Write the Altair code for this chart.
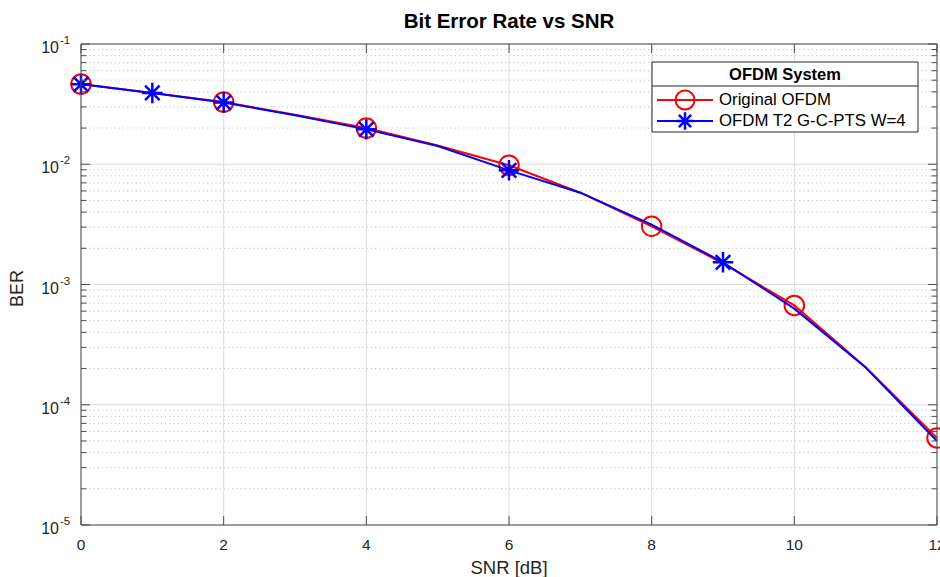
import altair as alt
import pandas as pd

# ---- data ----
snr = [0, 1, 2, 3, 4, 5, 6, 7, 8, 9, 10, 11, 12]
ber_original = [0.0464, 0.0392, 0.0329, 0.0258, 0.0200, 0.0143, 0.0098, 0.0058, 0.00305,
                0.00150, 0.00067, 0.000205, 0.0000530]
ber_gcpts = [0.0462, 0.0392, 0.0326, 0.0256, 0.0195, 0.0142, 0.0089, 0.0058, 0.00315,
             0.00153, 0.00063, 0.000204, 0.0000500]
orig_marker_snr = [0, 2, 4, 6, 8, 10, 12]
gcpts_marker_snr = [0, 1, 2, 4, 6, 9]
series_names = ["Original OFDM", "OFDM T2 G-C-PTS W=4"]
series_colors = ["#ff0000", "#0000ff"]
legend_title = "OFDM System"
chart_title = "Bit Error Rate vs SNR"
x_title = "SNR [dB]"
y_title = "BER"
x_ticks = [0, 2, 4, 6, 8, 10, 12]
y_decades = [1e-1, 1e-2, 1e-3, 1e-4, 1e-5]
y_exponents = ["-1", "-2", "-3", "-4", "-5"]
minor_mult = [2, 3, 4, 5, 6, 7, 8, 9]
decade_bases = [1e-5, 1e-4, 1e-3, 1e-2]
y_minor = [m * d for d in decade_bases for m in minor_mult]

W, H = 856, 481
FONT = "Liberation Sans"
AX = "#4d4d4d"

xs = alt.Scale(domain=[0, 12], nice=False, zero=False)
ys = alt.Scale(type="log", domain=[1e-5, 1e-1], nice=False)

one = pd.DataFrame({"a": [0]})
df_orig = pd.DataFrame({"snr": snr, "ber": ber_original})
df_gc = pd.DataFrame({"snr": snr, "ber": ber_gcpts})
df_orig_m = df_orig[df_orig.snr.isin(orig_marker_snr)]
df_gc_m = df_gc[df_gc.snr.isin(gcpts_marker_snr)]
df_minor = pd.DataFrame({"v": y_minor})
df_dec = pd.DataFrame({"v": y_decades, "e": y_exponents, "b": ["10"] * len(y_decades)})
df_xt = pd.DataFrame({"v": x_ticks, "t": [str(t) for t in x_ticks]})

X = lambda f="snr": alt.X(f"{f}:Q", scale=xs, axis=None)
Y = lambda f="ber": alt.Y(f"{f}:Q", scale=ys, axis=None)

minor_grid = alt.Chart(df_minor).mark_rule(color="#c4c4c4", strokeWidth=1, strokeDash=[1.2, 3]).encode(
    y=Y("v"), x=alt.value(0), x2=alt.value(W))
major_ygrid = alt.Chart(df_dec).mark_rule(color="#dcdcdc", strokeWidth=1).encode(
    y=Y("v"), x=alt.value(0), x2=alt.value(W))
major_xgrid = alt.Chart(df_xt).mark_rule(color="#dcdcdc", strokeWidth=1).encode(
    x=X("v"), y=alt.value(0), y2=alt.value(H))

# ticks (inward, on all four sides)
yt_l = alt.Chart(df_dec).mark_rule(color=AX).encode(y=Y("v"), x=alt.value(0), x2=alt.value(9))
yt_r = alt.Chart(df_dec).mark_rule(color=AX).encode(y=Y("v"), x=alt.value(W - 9), x2=alt.value(W))
ym_l = alt.Chart(df_minor).mark_rule(color=AX).encode(y=Y("v"), x=alt.value(0), x2=alt.value(5.5))
ym_r = alt.Chart(df_minor).mark_rule(color=AX).encode(y=Y("v"), x=alt.value(W - 5.5), x2=alt.value(W))
xt_b = alt.Chart(df_xt).mark_rule(color=AX).encode(x=X("v"), y=alt.value(H - 9), y2=alt.value(H))
xt_t = alt.Chart(df_xt).mark_rule(color=AX).encode(x=X("v"), y=alt.value(0), y2=alt.value(9))

frame = alt.Chart(one).mark_rect(fill=None, stroke=AX, strokeWidth=1).encode(
    x=alt.value(0), x2=alt.value(W), y=alt.value(0), y2=alt.value(H))

# data
line_o = alt.Chart(df_orig).mark_line(color=series_colors[0], strokeWidth=2).encode(x=X(), y=Y())
pts_o = alt.Chart(df_orig_m).mark_point(shape="circle", filled=False, color=series_colors[0],
                                        size=380, strokeWidth=2, opacity=1).encode(x=X(), y=Y())
line_g = alt.Chart(df_gc).mark_line(color=series_colors[1], strokeWidth=2).encode(x=X(), y=Y())
STAR = "M-1,0L1,0M0,-1L0,1M-0.7071,-0.7071L0.7071,0.7071M-0.7071,0.7071L0.7071,-0.7071"
pts_g = alt.Chart(df_gc_m).mark_point(shape=STAR, filled=False, color=series_colors[1],
                                      size=420, strokeWidth=2.5, opacity=1).encode(x=X(), y=Y())

# axis labels
ylab_b = alt.Chart(df_dec).mark_text(align="right", baseline="middle", font=FONT, fontSize=16,
                                     color="#262626", dy=4).encode(y=Y("v"), x=alt.value(-22), text="b:N")
ylab_e = alt.Chart(df_dec).mark_text(align="left", baseline="middle", font=FONT, fontSize=11.5,
                                     color="#262626", dy=-3).encode(y=Y("v"), x=alt.value(-21), text="e:N")
xlab = alt.Chart(df_xt).mark_text(align="center", baseline="middle", font=FONT, fontSize=15.5,
                                  color="#262626").encode(x=X("v"), y=alt.value(H + 20), text="t:N")
xtitle = alt.Chart(one).mark_text(text=x_title, align="center", baseline="middle", font=FONT,
                                  fontSize=18.5, color="#262626").encode(x=alt.value(W / 2), y=alt.value(H + 43))
ytitle = alt.Chart(one).mark_text(text=y_title, align="center", baseline="middle", font=FONT, angle=270,
                                  fontSize=18, color="#262626").encode(x=alt.value(-63), y=alt.value(H / 2 + 4))
title = alt.Chart(one).mark_text(text=chart_title, align="center", baseline="middle", font=FONT,
                                 fontSize=20.5, fontWeight="bold", color="#000000").encode(
    x=alt.value(W / 2), y=alt.value(-22))

# legend
LX0, LX1, LY0, LY1 = 571, 837, 18, 88
leg_box = alt.Chart(one).mark_rect(fill="white", stroke="#262626", strokeWidth=1).encode(
    x=alt.value(LX0), x2=alt.value(LX1), y=alt.value(LY0), y2=alt.value(LY1))
leg_sep = alt.Chart(one).mark_rule(color="#262626", strokeWidth=1).encode(
    x=alt.value(LX0), x2=alt.value(LX1), y=alt.value(42))
leg_title = alt.Chart(one).mark_text(text=legend_title, align="center", baseline="middle", font=FONT,
                                     fontSize=16.5, fontWeight="bold", color="#000000").encode(
    x=alt.value((LX0 + LX1) / 2), y=alt.value(31))
legend_layers = [leg_box, leg_sep, leg_title]
entry_y = [56, 77]
for i in range(2):
    legend_layers.append(alt.Chart(one).mark_rule(color=series_colors[i], strokeWidth=2).encode(
        x=alt.value(576), x2=alt.value(632), y=alt.value(entry_y[i])))
    if i == 0:
        legend_layers.append(alt.Chart(one).mark_point(shape="circle", filled=False, color=series_colors[i],
                                                       size=360, strokeWidth=2, opacity=1).encode(
            x=alt.value(604), y=alt.value(entry_y[i])))
    else:
        legend_layers.append(alt.Chart(one).mark_point(shape=STAR, filled=False, color=series_colors[i],
                                                       size=300, strokeWidth=2.5, opacity=1).encode(
            x=alt.value(604), y=alt.value(entry_y[i])))
    legend_layers.append(alt.Chart(one).mark_text(text=series_names[i], align="left", baseline="middle",
                                                  font=FONT, fontSize=16.8, color="#000000").encode(
        x=alt.value(638), y=alt.value(entry_y[i])))

chart = alt.layer(
    minor_grid, major_ygrid, major_xgrid,
    line_o, pts_o, line_g, pts_g,
    frame, yt_l, yt_r, ym_l, ym_r, xt_b, xt_t,
    ylab_b, ylab_e, xlab, xtitle, ytitle, title,
    *legend_layers,
).properties(
    width=W, height=H,
    padding={"left": 81, "top": 44, "right": 3, "bottom": 52},
    autosize=alt.AutoSizeParams(type="none"),
    background="white",
).configure_view(stroke=None)

chart.save("out.html", embed_options={"renderer": "svg", "actions": False})
